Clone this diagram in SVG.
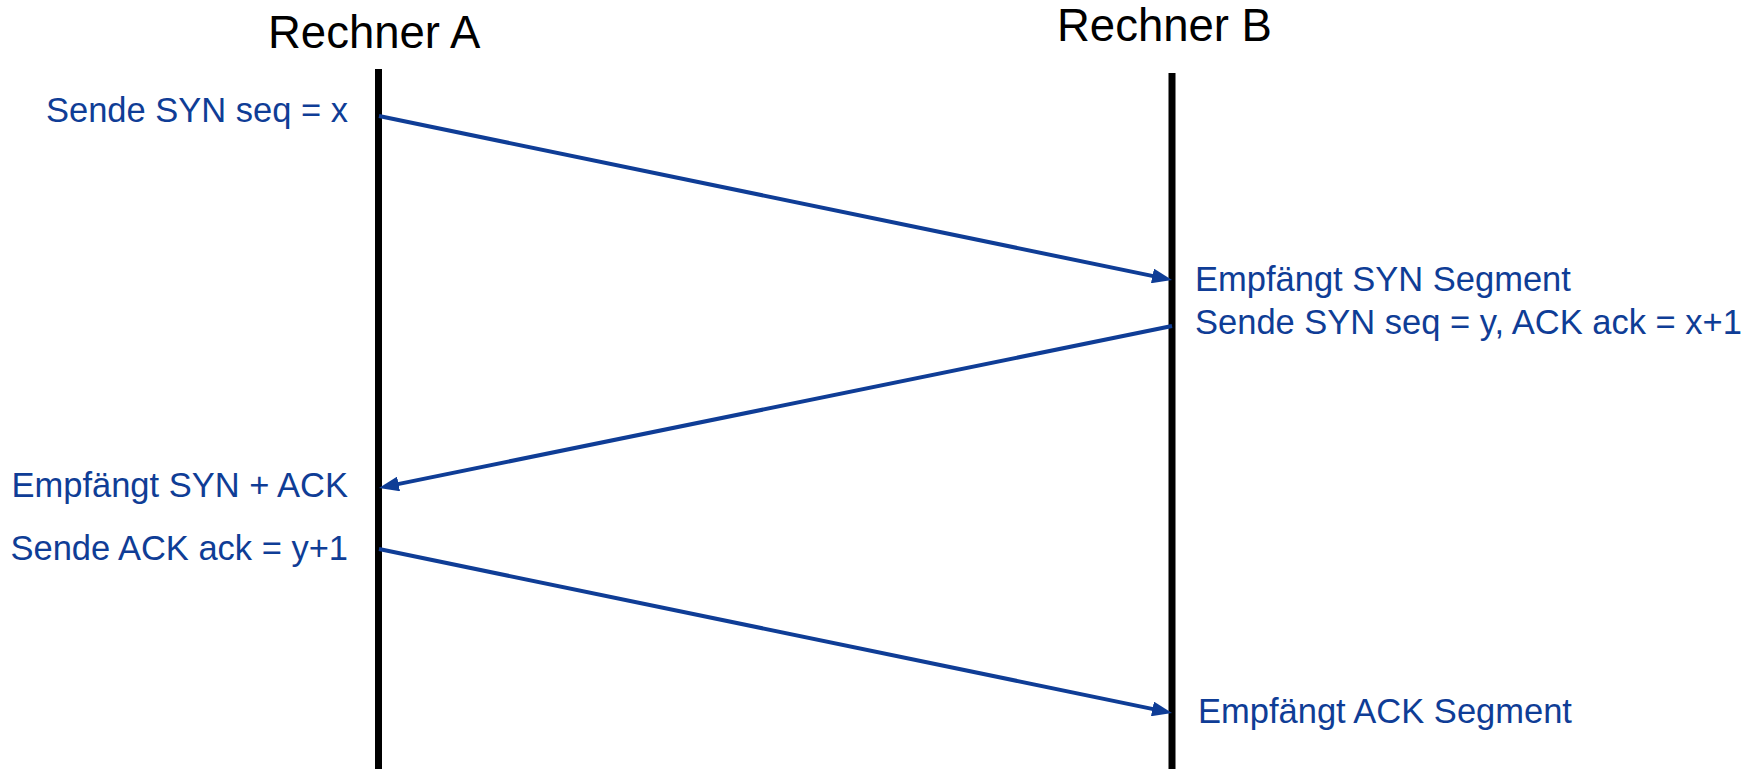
<svg xmlns="http://www.w3.org/2000/svg" width="1756" height="769" viewBox="0 0 1756 769">
  <style>
    .title { font-family: "Liberation Sans", Arial, sans-serif; font-size: 45.5px; fill: #000; }
    .lbl { font-family: "Liberation Sans", Arial, sans-serif; font-size: 34.5px; fill: #0f3d96; }
    .life { stroke: #000; stroke-width: 7; fill: none; }
    .msg { stroke: #0f3d96; stroke-width: 4; fill: none; marker-end: url(#arrow); }
  </style>
  <defs>
    <marker id="arrow" markerUnits="userSpaceOnUse" viewBox="0 0 20 15" markerWidth="20" markerHeight="15" refX="12" refY="7.5" orient="auto">
      <path d="M0,0 L20,7.5 L0,15 z" fill="#0f3d96"/>
    </marker>
  </defs>
  <rect width="1756" height="769" fill="#fff"/>

  <!-- host A: title and lifeline -->
  <g id="rechner-a">
    <text class="title" x="268" y="48">Rechner A</text>
    <line class="life" x1="378.5" y1="69" x2="378.5" y2="769"/>
  </g>

  <!-- host B: title and lifeline -->
  <g id="rechner-b">
    <text class="title" x="1057" y="41">Rechner B</text>
    <line class="life" x1="1172" y1="73" x2="1172" y2="769"/>
  </g>

  <!-- event labels -->
  <g id="labels-a">
    <text class="lbl" x="348" y="122" text-anchor="end">Sende SYN seq = x</text>
    <text class="lbl" x="348" y="497" text-anchor="end">Empfängt SYN + ACK</text>
    <text class="lbl" x="348" y="560" text-anchor="end">Sende ACK ack = y+1</text>
  </g>
  <g id="labels-b">
    <text class="lbl" x="1195" y="291">Empfängt SYN Segment</text>
    <text class="lbl" x="1195" y="334">Sende SYN seq = y, ACK ack = x+1</text>
    <text class="lbl" x="1198" y="723">Empfängt ACK Segment</text>
  </g>

  <!-- segments exchanged between the hosts -->
  <g id="connectors">
    <line class="msg" x1="379" y1="116" x2="1164.2" y2="278.4"/>
    <line class="msg" x1="1172" y1="326" x2="386.8" y2="486.4"/>
    <line class="msg" x1="379" y1="549" x2="1164.2" y2="711.4"/>
  </g>
</svg>
